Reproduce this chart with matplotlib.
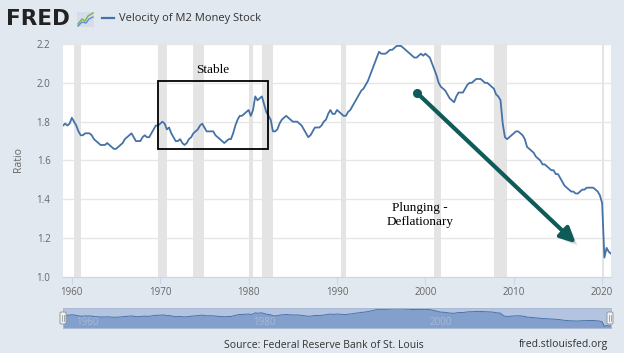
import numpy as np
import pandas as pd
import matplotlib
matplotlib.use('Agg')
import matplotlib.pyplot as plt
from matplotlib.patches import Rectangle, FancyBboxPatch
from matplotlib.lines import Line2D
import matplotlib.patheffects as pe

# ---------------- data ----------------
start_date = '1959-01-01'
m2v = [
    1.78, 1.79, 1.78, 1.79,   # 1959
    1.82, 1.80, 1.78, 1.75,   # 1960
    1.73, 1.73, 1.74, 1.74,   # 1961
    1.74, 1.73, 1.71, 1.70,   # 1962
    1.69, 1.68, 1.68, 1.68,   # 1963
    1.69, 1.68, 1.67, 1.66,   # 1964
    1.66, 1.67, 1.68, 1.69,   # 1965
    1.71, 1.72, 1.73, 1.74,   # 1966
    1.72, 1.70, 1.70, 1.70,   # 1967
    1.72, 1.73, 1.72, 1.72,   # 1968
    1.74, 1.76, 1.78, 1.78,   # 1969
    1.79, 1.80, 1.79, 1.76,   # 1970
    1.77, 1.74, 1.72, 1.70,   # 1971
    1.70, 1.71, 1.69, 1.68,   # 1972
    1.69, 1.71, 1.72, 1.74,   # 1973
    1.75, 1.76, 1.78, 1.79,   # 1974
    1.77, 1.75, 1.75, 1.75,   # 1975
    1.75, 1.73, 1.72, 1.71,   # 1976
    1.70, 1.69, 1.70, 1.71,   # 1977
    1.71, 1.74, 1.78, 1.81,   # 1978
    1.83, 1.83, 1.84, 1.85,   # 1979
    1.86, 1.83, 1.86, 1.93,   # 1980
    1.91, 1.92, 1.93, 1.89,   # 1981
    1.85, 1.83, 1.81, 1.75,   # 1982
    1.75, 1.76, 1.79, 1.81,   # 1983
    1.82, 1.83, 1.82, 1.81,   # 1984
    1.80, 1.80, 1.80, 1.79,   # 1985
    1.78, 1.76, 1.74, 1.72,   # 1986
    1.73, 1.75, 1.77, 1.77,   # 1987
    1.77, 1.78, 1.80, 1.81,   # 1988
    1.84, 1.86, 1.84, 1.84,   # 1989
    1.86, 1.85, 1.84, 1.83,   # 1990
    1.83, 1.85, 1.86, 1.88,   # 1991
    1.90, 1.92, 1.94, 1.96,   # 1992
    1.97, 1.99, 2.01, 2.04,   # 1993
    2.07, 2.10, 2.13, 2.16,   # 1994
    2.15, 2.15, 2.15, 2.16,   # 1995
    2.17, 2.17, 2.18, 2.19,   # 1996
    2.19, 2.19, 2.18, 2.17,   # 1997
    2.16, 2.15, 2.14, 2.13,   # 1998
    2.13, 2.14, 2.15, 2.14,   # 1999
    2.15, 2.14, 2.13, 2.10,   # 2000
    2.07, 2.04, 2.00, 1.98,   # 2001
    1.97, 1.96, 1.94, 1.92,   # 2002
    1.91, 1.90, 1.93, 1.95,   # 2003
    1.95, 1.95, 1.97, 1.99,   # 2004
    2.00, 2.00, 2.01, 2.02,   # 2005
    2.02, 2.02, 2.01, 2.00,   # 2006
    2.00, 1.99, 1.98, 1.97,   # 2007
    1.94, 1.93, 1.91, 1.79,   # 2008
    1.72, 1.71, 1.72, 1.73,   # 2009
    1.74, 1.75, 1.75, 1.74,   # 2010
    1.73, 1.71, 1.67, 1.66,   # 2011
    1.65, 1.64, 1.62, 1.61,   # 2012
    1.60, 1.58, 1.58, 1.57,   # 2013
    1.56, 1.55, 1.55, 1.53,   # 2014
    1.53, 1.51, 1.49, 1.47,   # 2015
    1.46, 1.45, 1.44, 1.44,   # 2016
    1.43, 1.43, 1.44, 1.45,   # 2017
    1.45, 1.46, 1.46, 1.46,   # 2018
    1.46, 1.45, 1.44, 1.42,   # 2019
    1.38, 1.10, 1.15, 1.13,   # 2020
    1.12,                     # 2021
]
rec_start = [1960.25, 1969.75, 1973.75, 1980.0, 1981.5, 1990.5, 2001.0, 2007.75, 2020.0]
rec_end = [1961.0, 1970.75, 1975.0, 1980.5, 1982.75, 1991.0, 2001.75, 2009.25, 2020.25]
x_ticks = [1960, 1970, 1980, 1990, 2000, 2010, 2020]
y_ticks = [1.0, 1.2, 1.4, 1.6, 1.8, 2.0, 2.2]
nav_labels = [1960, 1980, 2000]
series_name = 'Velocity of M2 Money Stock'
y_label = 'Ratio'
source_text = 'Source: Federal Reserve Bank of St. Louis'
site_text = 'fred.stlouisfed.org'
box_label = 'Stable'
arrow_label = 'Plunging -\nDeflationary'

# annotation geometry (data coords)
box_x0, box_x1, box_y0, box_y1 = 1969.75, 1982.15, 1.658, 2.01
arrow_from = (1999.1, 1.946)
arrow_to = (2017.0, 1.174)

# ---------------- figure ----------------
W, H = 624, 353
BG = '#e1e8f0'
LINE = '#4572a7'
TEAL = '#0e5b58'
fig = plt.figure(figsize=(W / 100, H / 100), dpi=100, facecolor=BG)

dates = pd.date_range(start_date, periods=len(m2v), freq='QS')
x = np.asarray(dates.year + (dates.month - 1) / 12.0, dtype=float)
y = np.asarray(m2v)

def fx(px):
    return px / W

def fy(py):
    return 1 - py / H

ax = fig.add_axes([fx(63), fy(277), (611 - 63) / W, (277 - 44) / H])
ax.set_facecolor('white')
ax.set_xlim(1959.0, 2021.0)
ax.set_ylim(1.0, 2.2)
for s, e in zip(rec_start, rec_end):
    ax.axvspan(s, e, color='#e4e4e4', lw=0, zorder=1)
ax.set_yticks(y_ticks)
ax.set_yticklabels([f'{v:.1f}' for v in y_ticks])
ax.set_xticks(x_ticks)
ax.grid(axis='y', color='#e6e6e6', lw=1.0, zorder=0)
ax.set_axisbelow(True)
for side in ['top', 'left', 'right']:
    ax.spines[side].set_visible(False)
ax.spines['bottom'].set_color('#ccd6eb')
ax.tick_params(axis='y', length=0, pad=9, labelsize=7, labelcolor='#666666')
ax.tick_params(axis='x', length=5, width=0.8, color='#ccd6eb', pad=2,
               labelsize=7, labelcolor='#666666')
for lab in ax.get_xticklabels() + ax.get_yticklabels():
    lab.set_family('Open Sans')

ax.plot(x, y, color=LINE, lw=1.3, zorder=3, solid_joinstyle='round')

# Stable box
ax.add_patch(Rectangle((box_x0, box_y0), box_x1 - box_x0, box_y1 - box_y0,
                       fill=False, ec='black', lw=1.3, zorder=5))
ax.text((box_x0 + box_x1) / 2, box_y1 + 0.055, box_label, ha='center', va='center',
        fontsize=9.5, family='Liberation Serif', color='black', zorder=6)

# arrow with shadow
arr = ax.annotate('', xy=arrow_to, xytext=arrow_from,
                  arrowprops=dict(arrowstyle='-|>,head_length=0.9,head_width=0.45',
                                  color=TEAL, lw=3.0, shrinkA=0, shrinkB=0),
                  zorder=6)
arr.arrow_patch.set_path_effects([
    pe.SimplePatchShadow(offset=(4, -4), shadow_rgbFace='#888888', alpha=0.15),
    pe.SimplePatchShadow(offset=(3, -3), shadow_rgbFace='#777777', alpha=0.2),
    pe.SimplePatchShadow(offset=(2, -2), shadow_rgbFace='#666666', alpha=0.2),
    pe.Normal()])
ax.plot([arrow_from[0]], [arrow_from[1]], 'o', color=TEAL, ms=5.5, zorder=7)
ax.text(1999.4, 1.32, arrow_label, ha='center', va='center', fontsize=9.5,
        family='Liberation Serif', color='black', linespacing=1.25, zorder=6)

# y label
fig.text(fx(18), fy(160), y_label, rotation=90, ha='center', va='center',
         fontsize=7.5, color='#666666', family='Open Sans')

# ---------------- header ----------------
fig.text(fx(6), fy(19), 'FRED', ha='left', va='center', fontsize=15.5,
         weight='heavy', family='DejaVu Sans', color='#222222')
fig.patches.append(Rectangle((fx(77), fy(27)), 17 / W, 15 / H, transform=fig.transFigure,
                             fc='#d5dee8', ec='none'))
fig.lines.append(Line2D([fx(78), fx(82), fx(85), fx(88), fx(93)],
                        [fy(24), fy(19), fy(21), fy(16), fy(13)],
                        transform=fig.transFigure, color='#7cb342', lw=1.0))
fig.lines.append(Line2D([fx(78), fx(82), fx(86), fx(89), fx(93)],
                        [fy(26), fy(22), fy(23), fy(19), fy(17)],
                        transform=fig.transFigure, color='#5b8fd0', lw=1.0))
fig.lines.append(Line2D([fx(102), fx(114)], [fy(18), fy(18)], transform=fig.transFigure,
                        color=LINE, lw=1.6))
fig.text(fx(119), fy(18), series_name, ha='left', va='center', fontsize=8,
         family='Open Sans', color='#333333')

# ---------------- navigator ----------------
nav = fig.add_axes([fx(63), fy(328), (611 - 63) / W, (328 - 308) / H])
nav.set_facecolor('#b3c4e0')
nav.set_xlim(1959.0, 2021.0)
nav.set_ylim(1.0, 2.23)
nav.fill_between(x, y, 1.0, color='#839fcc', lw=0)
nav.plot(x, y, color='#4a72ad', lw=0.7)
nav.set_xticks([])
nav.set_yticks([])
for sp in nav.spines.values():
    sp.set_color('#a9b9d3')
    sp.set_linewidth(0.6)
for yr in nav_labels:
    nav.text(yr + 0.5, 1.35, str(yr), ha='left', va='center', fontsize=7,
             color='#a8bad6', family='Open Sans', clip_on=True)
for hx in [63, 610]:
    fig.patches.append(FancyBboxPatch((fx(hx - 3), fy(324)), 6 / W, 12 / H,
                                      boxstyle='round,pad=0,rounding_size=0.003',
                                      transform=fig.transFigure, fc='#f2f2f2',
                                      ec='#999999', lw=0.7))
    fig.lines.append(Line2D([fx(hx - 1), fx(hx - 1)], [fy(321), fy(315)],
                            transform=fig.transFigure, color='#999999', lw=0.6))
    fig.lines.append(Line2D([fx(hx + 1), fx(hx + 1)], [fy(321), fy(315)],
                            transform=fig.transFigure, color='#999999', lw=0.6))

# ---------------- footer ----------------
fig.text(fx(324), fy(345), source_text, ha='center', va='center', fontsize=7.5,
         family='Open Sans', color='#333333')
fig.text(fx(608), fy(345), site_text, ha='right', va='center', fontsize=7.5,
         family='Open Sans', color='#333333')

fig.savefig('out.png', dpi=100, facecolor=BG)
